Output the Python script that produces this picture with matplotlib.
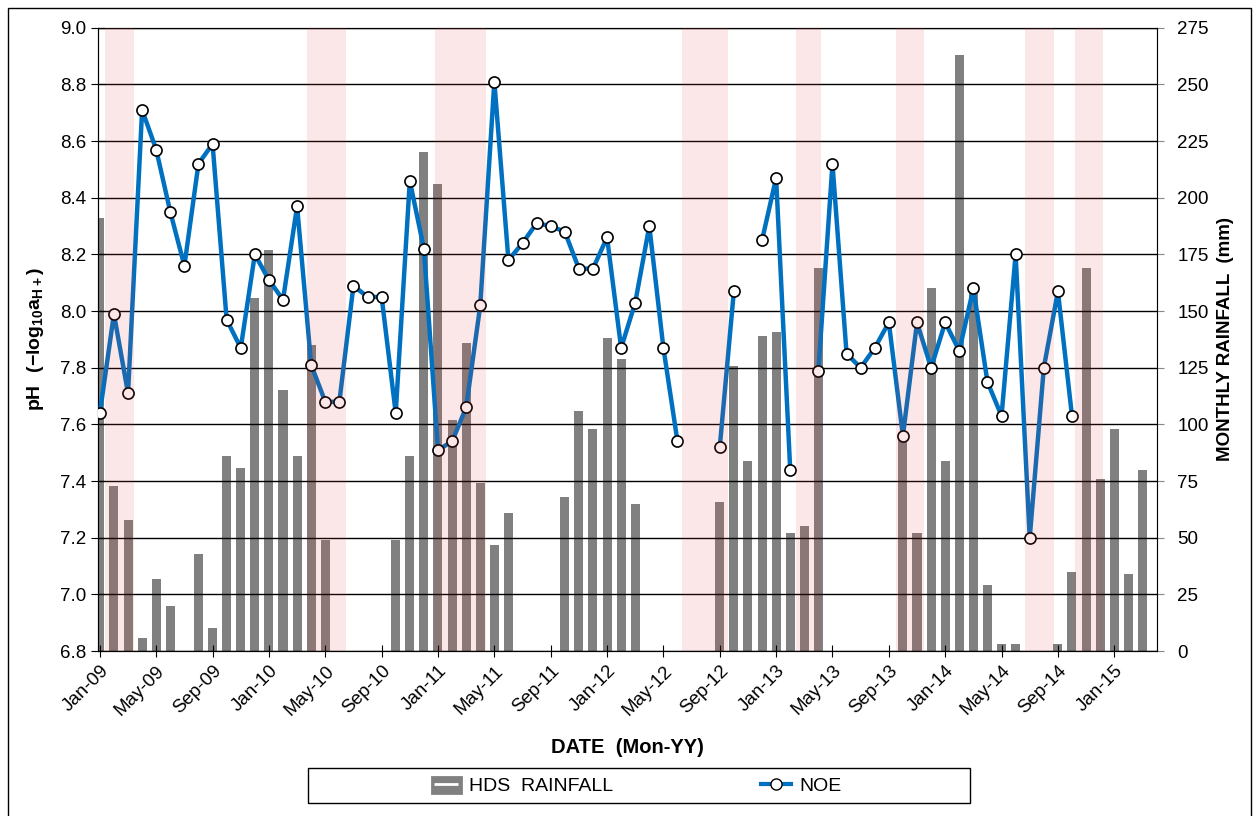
import numpy as np
import matplotlib
matplotlib.use("Agg")
from matplotlib import pyplot as plt
from matplotlib.lines import Line2D
from matplotlib.patches import Rectangle, Patch
from matplotlib.legend_handler import HandlerTuple

# monthly data, month 0 = Jan-09
rainfall = [191, 73, 58, 6, 32, 20, 0, 43, 10, 86,
            81, 156, 177, 115, 86, 135, 49, 0, 0, 0,
            0, 49, 86, 220, 206, 102, 136, 74, 47, 61,
            0, 0, 0, 68, 106, 98, 138, 129, 65, 0,
            0, 0, 0, 0, 66, 126, 84, 139, 141, 52,
            55, 169, 0, 0, 0, 0, 0, 95, 52, 160,
            84, 263, 159, 29, 3, 3, 0, 0, 3, 35,
            169, 76, 98, 34, 80]

nan = np.nan
noe_ph = [7.64, 7.99, 7.71, 8.71, 8.57, 8.35, 8.16, 8.52, 8.59, 7.97,
          7.87, 8.20, 8.11, 8.04, 8.37, 7.81, 7.68, 7.68, 8.09, 8.05,
          8.05, 7.64, 8.46, 8.22, 7.51, 7.54, 7.66, 8.02, 8.81, 8.18,
          8.24, 8.31, 8.30, 8.28, 8.15, 8.15, 8.26, 7.87, 8.03, 8.30,
          7.87, 7.54, nan, nan, 7.52, 8.07, nan, 8.25, 8.47, 7.44,
          nan, 7.79, 8.52, 7.85, 7.80, 7.87, 7.96, 7.56, 7.96, 7.80,
          7.96, 7.86, 8.08, 7.75, 7.63, 8.20, 7.20, 7.80, 8.07, 7.63]

# shaded periods (start, end) in months from Jan-09
bands = [(0.35, 2.45), (14.7, 17.5), (23.8, 27.4), (41.3, 44.6),
         (49.4, 51.2), (56.5, 58.5), (65.7, 67.7), (69.2, 71.2)]

tick_labels = ['Jan-09', 'May-09', 'Sep-09', 'Jan-10', 'May-10', 'Sep-10',
               'Jan-11', 'May-11', 'Sep-11', 'Jan-12', 'May-12', 'Sep-12',
               'Jan-13', 'May-13', 'Sep-13', 'Jan-14', 'May-14', 'Sep-14',
               'Jan-15']

plt.rcParams['font.family'] = ['Liberation Sans', 'DejaVu Sans']
plt.rcParams['mathtext.fontset'] = 'custom'
plt.rcParams['mathtext.rm'] = 'Liberation Sans'
plt.rcParams['mathtext.bf'] = 'Liberation Sans:bold'

fig = plt.figure(figsize=(12.53, 8.16), dpi=100)
ax1 = fig.add_axes([0.078, 0.202, 0.845, 0.764])
ax2 = ax1.twinx()
ax1.set_zorder(ax2.get_zorder() + 1)
ax1.patch.set_visible(False)

months_r = np.arange(len(rainfall))
months_p = np.arange(len(noe_ph))

ax2.bar(months_r, rainfall, width=0.64, color='#808080', zorder=1)
ax2.set_ylim(0, 275)
ax2.set_yticks(np.arange(0, 276, 25))
ax2.tick_params(axis='y', labelsize=13.5, length=5, pad=10, color='#888888')
ax2.spines['right'].set_color('#888888')
ax2.set_ylabel('MONTHLY RAINFALL  (mm)', fontsize=13.5, fontweight='bold',
               labelpad=6)

ax1.set_ylim(6.8, 9.0)
ax1.set_yticks(np.arange(6.8, 9.01, 0.2))
ax1.set_yticklabels(['%.1f' % v for v in np.arange(6.8, 9.01, 0.2)])
ax1.grid(axis='y', color='black', linewidth=1, zorder=2)
ax1.set_axisbelow(False)
ax1.plot(months_p, noe_ph, color='#0070c0', linewidth=3.2, marker='o',
         markersize=8, markerfacecolor='white', markeredgecolor='black',
         markeredgewidth=1.2, zorder=5)
for b0, b1 in bands:
    ax1.axvspan(b0, b1, color='#e63c3c', alpha=0.12, linewidth=0, zorder=6)

ax1.set_xlim(-0.15, 75)
ax1.set_xticks(np.arange(0, 73, 4))
ax1.set_xticklabels(tick_labels, rotation=45, ha='right',
                    rotation_mode='anchor', fontsize=13.5)
ax1.tick_params(axis='x', length=8, direction='inout', pad=4)
ax1.tick_params(axis='y', labelsize=13.5, length=10, direction='inout')
ax1.set_ylabel(r'$\mathbf{pH\ \ (-log_{10}a_{H+})}$', fontsize=14,
               labelpad=10)
ax1.set_xlabel('DATE  (Mon-YY)', fontsize=14.5, fontweight='bold',
               labelpad=14)

# legend: items without frame, frame drawn as separate box
rain_handle = (Patch(facecolor='#808080', edgecolor='#808080',
                     joinstyle='round', linewidth=2),
               Line2D([], [], linestyle='none', marker='_', markersize=17,
                      markeredgewidth=2, color='white'))
noe_handle = Line2D([], [], color='#0070c0', linewidth=3, marker='o',
                    markersize=8, markerfacecolor='white',
                    markeredgecolor='black')
fig.legend([rain_handle, noe_handle], ['HDS  RAINFALL', 'NOE'],
           handler_map={tuple: HandlerTuple(ndivide=1)},
           loc='center', bbox_to_anchor=(0.508, 0.0368), ncol=2,
           numpoints=1, frameon=False, columnspacing=7.6, handlelength=1.5,
           handleheight=0.9, handletextpad=0.45, prop={'size': 14})
fig.patches.append(Rectangle((308 / 1253, 1 - 803 / 816), 662 / 1253,
                             35 / 816, transform=fig.transFigure,
                             fill=False, edgecolor='black', linewidth=1.0))

fig.patches.append(Rectangle((8 / 1253, -0.1), 1243 / 1253, 1.1 - 8 / 816,
                             transform=fig.transFigure, fill=False,
                             edgecolor='black', linewidth=1.0))

plt.savefig('out.png', dpi=100)
